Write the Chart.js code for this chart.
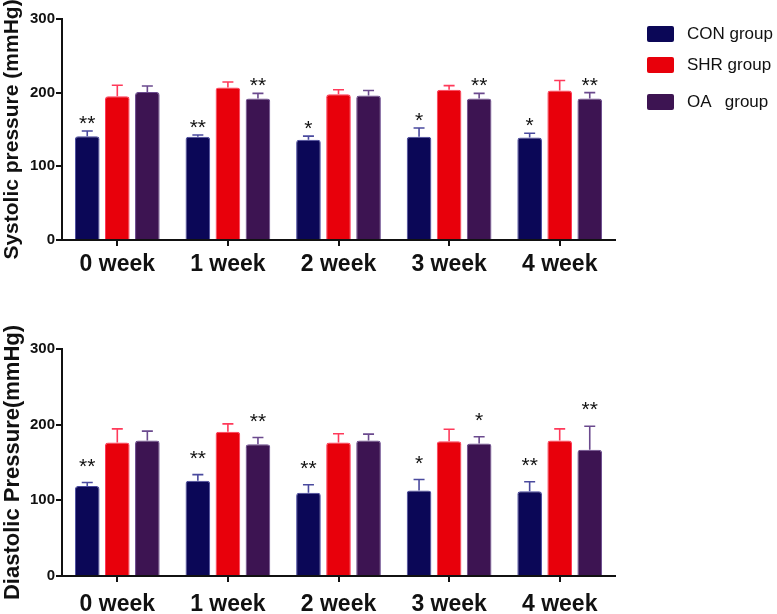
<!DOCTYPE html>
<html>
<head>
<meta charset="utf-8">
<script src="https://cdn.jsdelivr.net/npm/chart.js@4.4.1/dist/chart.umd.min.js"></script>
<style>
  html, body { margin: 0; padding: 0; background: #fff; }
  body { width: 777px; height: 614px; position: relative; overflow: hidden;
         font-family: "Liberation Sans", Arial, sans-serif; }
  .wrap { position: absolute; left: 0; width: 777px; }
  #legend { position: absolute; left: 647px; top: 0; }
  .lg-row { position: absolute; left: 0; display: flex; align-items: center; white-space: pre; }
  .lg-box { width: 27px; height: 16px; border-radius: 2px; margin-right: 13px; }
  .lg-text { font-size: 17px; color: #111; }
</style>
</head>
<body>
<div class="wrap" style="top:0;height:290px"><canvas id="sys-chart" width="777" height="290"></canvas></div>
<div class="wrap" style="top:300px;height:314px"><canvas id="dia-chart" width="777" height="314"></canvas></div>
<div id="legend"></div>
<script>
(function () {
  "use strict";

  // categories + series names
  const WEEKS = ["0 week", "1 week", "2 week", "3 week", "4 week"];
  const GROUPS = ["CON group", "SHR group", "OA   group"];
  const Y_TICKS = [0, 100, 200, 300];

  // systolic pressure (mmHg), mean and upper SEM
  const SYS_CON = [141, 140, 136, 140, 139];
  const SYS_SHR = [195, 207, 198, 204, 203];
  const SYS_OA = [201, 192, 196, 192, 192];
  const SYS_CON_ERR = [7, 2.5, 5, 12, 6];
  const SYS_SHR_ERR = [15, 7.5, 6, 5.5, 13.5];
  const SYS_OA_ERR = [8, 7, 7, 7, 8];
  const SYS_CON_SIG = ["**", "**", "*", "*", "*"];
  const SYS_OA_SIG = ["", "**", "", "**", "**"];

  // diastolic pressure (mmHg)
  const DIA_CON = [119, 126, 110, 113, 112];
  const DIA_SHR = [176.5, 190.5, 176.5, 178, 179];
  const DIA_OA = [179, 174, 179, 175, 167];
  const DIA_CON_ERR = [4.5, 8, 10.5, 14.5, 12.5];
  const DIA_SHR_ERR = [18, 10.5, 11.5, 16, 15.5];
  const DIA_OA_ERR = [12.5, 9, 8.5, 9, 31];
  const DIA_CON_SIG = ["**", "**", "**", "*", "**"];
  const DIA_OA_SIG = ["", "**", "", "*", "**"];

  const FILL = ["#0b0757", "#e8000b", "#3d1452"];
  const EDGE = ["#4a4a9e", "#ff3a5a", "#6b4a8e"];
  const FONT = "'Liberation Sans', Arial, sans-serif";

  // error bars (upper only) + significance stars
  const errorBars = {
    id: "errorBars",
    afterDatasetsDraw(chart, args, opts) {
      const { ctx } = chart;
      const y = chart.scales.y;
      chart.data.datasets.forEach((ds, i) => {
        const meta = chart.getDatasetMeta(i);
        meta.data.forEach((bar, j) => {
          const top = y.getPixelForValue(ds.data[j] + ds.err[j]);
          ctx.save();
          ctx.strokeStyle = EDGE[i];
          ctx.lineWidth = 1.6;
          ctx.beginPath();
          ctx.moveTo(bar.x, bar.y);
          ctx.lineTo(bar.x, top);
          ctx.moveTo(bar.x - 5.5, top);
          ctx.lineTo(bar.x + 5.5, top);
          ctx.stroke();
          const sig = ds.sig ? ds.sig[j] : "";
          if (sig) {
            ctx.fillStyle = "#111";
            ctx.font = "21px " + FONT;
            ctx.textAlign = "center";
            ctx.textBaseline = "alphabetic";
            ctx.fillText(sig, bar.x, top - opts.gap + 12);
          }
          ctx.restore();
        });
      });
    },
  };

  function makeChart(id, title, series, errs, sigs, box) {
    const datasets = series.map((vals, i) => ({
      label: GROUPS[i],
      data: vals,
      err: errs[i],
      sig: sigs[i],
      backgroundColor: FILL[i],
      borderColor: EDGE[i],
      borderWidth: 1,
      borderSkipped: "bottom",
      borderRadius: { topLeft: 3, topRight: 3 },
      categoryPercentage: 0.815,
      barPercentage: 0.82,
    }));

    return new Chart(document.getElementById(id), {
      type: "bar",
      data: { labels: WEEKS, datasets },
      plugins: [errorBars],
      options: {
        responsive: false,
        animation: false,
        layout: { padding: { left: 0, top: box.top, right: 162, bottom: 0 } },
        plugins: {
          legend: { display: false },
          tooltip: { enabled: false },
          errorBars: { gap: box.gap },
        },
        scales: {
          x: {
            afterFit: (s) => { s.height = box.xh; },
            grid: { offset: false, drawOnChartArea: false, color: "#111", lineWidth: 2, tickLength: 6 },
            border: { color: "#111", width: 2 },
            ticks: { color: "#111", padding: box.xpad, font: { family: FONT, size: 23, weight: "bold" } },
          },
          y: {
            min: 0,
            max: 300,
            afterFit: (s) => { s.width = 62; },
            afterBuildTicks: (s) => { s.ticks = Y_TICKS.map((v) => ({ value: v })); },
            grid: { drawOnChartArea: false, color: "#111", lineWidth: 2, tickLength: 6 },
            border: { color: "#111", width: 2 },
            ticks: { color: "#111", padding: 1, font: { family: FONT, size: 15, weight: "bold" } },
            title: {
              display: true,
              text: title,
              color: "#111",
              padding: { top: 0, bottom: 0 },
              font: { family: FONT, size: box.tsize, weight: "bold" },
            },
          },
        },
      },
    });
  }

  function renderLegend() {
    const el = document.getElementById("legend");
    const rowTops = [24, 55, 92];
    el.innerHTML = GROUPS.map((g, i) =>
      `<div class="lg-row" style="top:${rowTops[i]}px">` +
      `<div class="lg-box" style="background:${FILL[i]}"></div>` +
      `<span class="lg-text">${g}</span></div>`
    ).join("");
  }

  makeChart(
    "sys-chart",
    "Systolic pressure (mmHg)",
    [SYS_CON, SYS_SHR, SYS_OA],
    [SYS_CON_ERR, SYS_SHR_ERR, SYS_OA_ERR],
    [SYS_CON_SIG, null, SYS_OA_SIG],
    { top: 19, xh: 50, xpad: 5, gap: 13, tsize: 21 }
  );
  makeChart(
    "dia-chart",
    "Diastolic Pressure(mmHg)",
    [DIA_CON, DIA_SHR, DIA_OA],
    [DIA_CON_ERR, DIA_SHR_ERR, DIA_OA_ERR],
    [DIA_CON_SIG, null, DIA_OA_SIG],
    { top: 49, xh: 38, xpad: 9, gap: 22, tsize: 22 }
  );
  renderLegend();
})();
</script>
</body>
</html>
